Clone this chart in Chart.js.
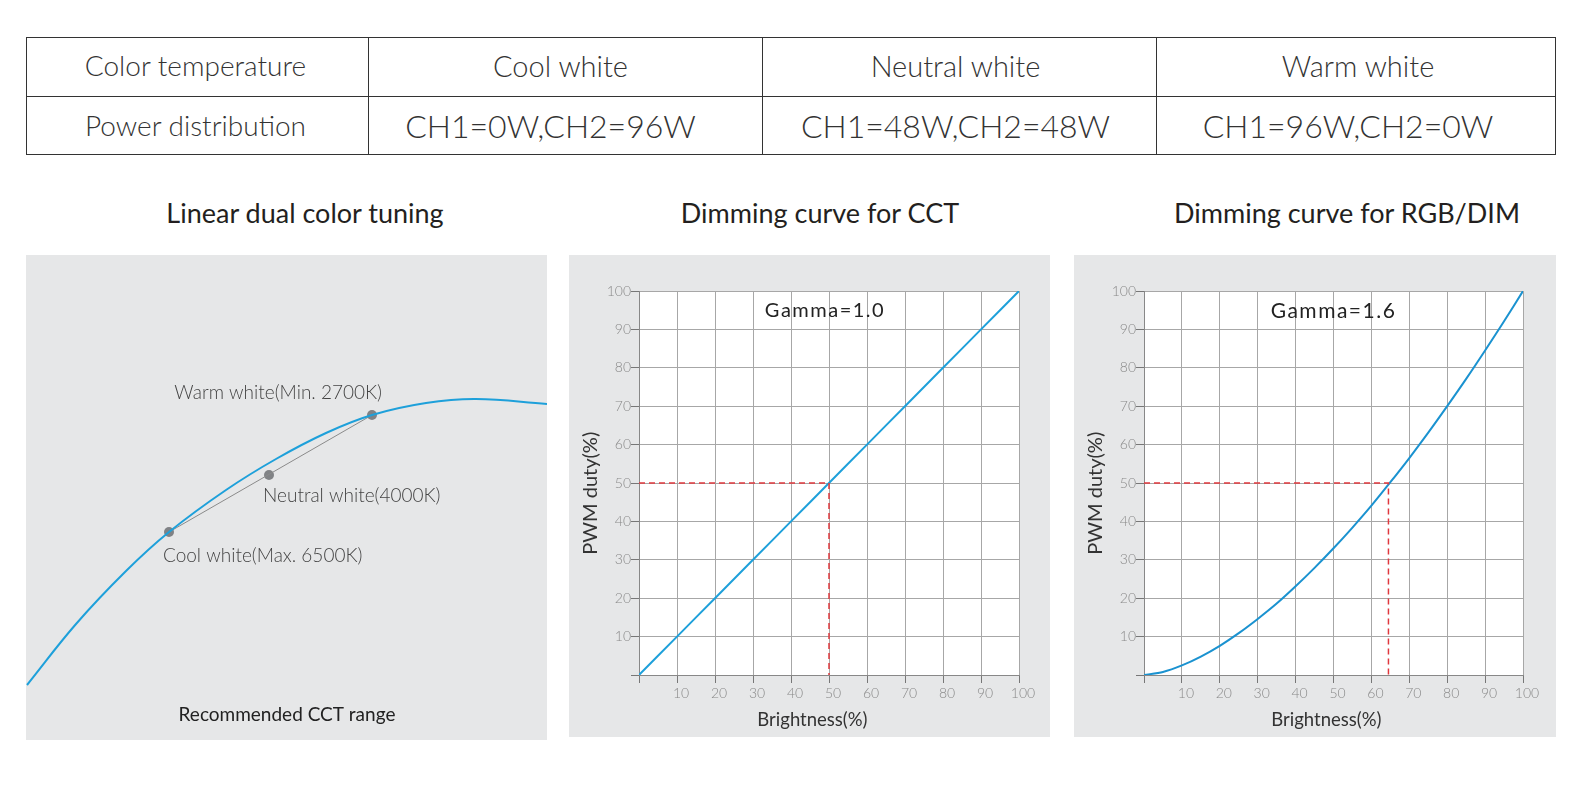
<!DOCTYPE html>
<html>
<head>
<meta charset="utf-8">
<script src="https://cdn.jsdelivr.net/npm/chart.js@4.4.0/dist/chart.umd.min.js"></script>
<style>
  body { margin: 0; background: #fff; width: 1572px; height: 796px; position: relative; overflow: hidden;
         font-family: Lato, "Open Sans", sans-serif; color: #333; }
  table { position: absolute; left: 26px; top: 37px; border-collapse: collapse; }
  td { border: 1px solid #333; text-align: center; font-weight: 300; font-size: 29px; height: 58.5px; padding: 0; color: #333; box-sizing: border-box; }
  tr.r1 td { padding-bottom: 3px; }
  td.first { font-size: 28px; }
  td.ch { font-size: 32px; }
  .ttl { position: absolute; width: 420px; text-align: center; font-size: 27px; color: #231f20; }
  .panel { position: absolute; background: #e6e7e8; }
</style>
</head>
<body>
<table>
  <tr class="r1">
    <td class="first" style="width:342px;padding-right:4px">Color temperature</td>
    <td style="width:394px;padding-right:10px">Cool white</td>
    <td style="width:394px;padding-right:8px">Neutral white</td>
    <td style="width:399px;padding-left:4px">Warm white</td>
  </tr>
  <tr>
    <td class="first" style="padding-right:4px">Power distribution</td>
    <td class="ch" style="padding-right:30px">CH1=0W,CH2=96W</td>
    <td class="ch" style="padding-right:8px">CH1=48W,CH2=48W</td>
    <td class="ch" style="padding-right:16px">CH1=96W,CH2=0W</td>
  </tr>
</table>

<div class="ttl" style="left:95px;top:196px">Linear dual color tuning</div>
<div class="ttl" style="left:610px;top:196px">Dimming curve for CCT</div>
<div class="ttl" style="left:1137px;top:196px">Dimming curve for RGB/DIM</div>

<div class="panel" style="left:26px;top:255px;width:521px;height:485px"><canvas id="cct" width="521" height="485"></canvas></div>
<div class="panel" style="left:569px;top:255px;width:481px;height:482px"><canvas id="lin" width="481" height="482"></canvas></div>
<div class="panel" style="left:1074px;top:255px;width:482px;height:482px"><canvas id="gam" width="482" height="482"></canvas></div>

<script>
// locus curve in the first panel (arbitrary units, no axes shown)
const locusX = [1, 50, 100, 143, 200, 250, 300, 346, 400, 450, 521];
const locusY = [55, 116, 169, 208, 250, 281, 307, 325, 337, 341, 336];
const pointNames = ["Cool white(Max. 6500K)", "Neutral white(4000K)", "Warm white(Min. 2700K)"];
const pointX = [143, 243, 346];
const pointY = [208, 265, 325];

// dimming curves
const brightness = [0, 10, 20, 30, 40, 50, 60, 70, 80, 90, 100];
const dutyLinear = [0, 10, 20, 30, 40, 50, 60, 70, 80, 90, 100];
const gammaX = [0, 5, 10, 15, 20, 25, 30, 35, 40, 45, 50, 55, 60, 65, 70, 75, 80, 85, 90, 95, 100];
const gammaY = [0, 0.8, 2.5, 4.8, 7.6, 10.9, 14.6, 18.6, 23.1, 27.9, 33, 38.4, 44.1, 50.2, 56.5, 63.1, 70, 77.1, 84.5, 92.1, 100];
const refLinX = [0, 50, 50];
const refLinY = [50, 50, 0];
const refGamX = [0, 64.5, 64.5];
const refGamY = [50, 50, 0];

const pts = (xs, ys) => xs.map((x, i) => ({ x: x, y: ys[i] }));
const FONT = "Lato, 'Open Sans', sans-serif";

// ---- panel 1 ----
const labelOffsets = [[-6, 24, "left"], [-6, 21, "left"], [10, -22, "right"]];
const pointLabels = {
  id: "pointLabels",
  afterDraw(chart) {
    const ctx = chart.ctx;
    const meta = chart.getDatasetMeta(2);
    ctx.save();
    ctx.font = "300 19px " + FONT;
    ctx.fillStyle = "#444";
    ctx.textBaseline = "middle";
    meta.data.forEach((p, i) => {
      ctx.textAlign = labelOffsets[i][2];
      ctx.fillText(pointNames[i], p.x + labelOffsets[i][0], p.y + labelOffsets[i][1]);
    });
    ctx.font = "19px " + FONT;
    ctx.fillStyle = "#222";
    ctx.textAlign = "center";
    ctx.fillText("Recommended CCT range", 261, 460);
    ctx.restore();
  },
};

new Chart(document.getElementById("cct"), {
  type: "scatter",
  data: {
    datasets: [
      {
        data: pts(locusX, locusY),
        showLine: true,
        borderColor: "#1ea0da",
        borderWidth: 2,
        pointRadius: 0,
        tension: 0.4,
      },
      {
        data: pts([pointX[0], pointX[2]], [pointY[0], pointY[2]]),
        showLine: true,
        borderColor: "#8a8a8a",
        borderWidth: 1,
        pointRadius: 0,
      },
      {
        data: pts(pointX, pointY),
        pointRadius: 5,
        pointBackgroundColor: "#808285",
        pointBorderWidth: 0,
      },
    ],
  },
  options: {
    responsive: false,
    animation: false,
    layout: { padding: 0, autoPadding: false },
    plugins: { legend: { display: false }, tooltip: { enabled: false } },
    scales: {
      x: { type: "linear", min: 0, max: 521, display: false },
      y: { type: "linear", min: 0, max: 485, display: false },
    },
  },
  plugins: [pointLabels],
});

// ---- panels 2 and 3 ----
const whiteArea = {
  id: "whiteArea",
  beforeDraw(chart) {
    const a = chart.chartArea;
    chart.ctx.save();
    chart.ctx.fillStyle = "#fff";
    chart.ctx.fillRect(a.left, a.top, a.right - a.left, a.bottom - a.top);
    chart.ctx.restore();
  },
};

function gammaLabel(text, size, dx) {
  return {
    id: "gammaLabel",
    afterDatasetsDraw(chart) {
      const ctx = chart.ctx;
      const a = chart.chartArea;
      ctx.save();
      ctx.font = size + "px " + FONT;
      ctx.letterSpacing = "1.5px";
      ctx.fillStyle = "#222";
      ctx.textAlign = "center";
      ctx.textBaseline = "middle";
      ctx.fillText(text, (a.left + a.right) / 2 + dx, a.top + 20);
      ctx.restore();
    },
  };
}

// cfg: left/right padding of plot, label sizes, title shifts (spaces)
function dimChart(id, curve, refLine, cfg) {
  new Chart(document.getElementById(id), {
    type: "scatter",
    data: {
      datasets: [
        {
          data: refLine,
          showLine: true,
          borderColor: "#e0383e",
          borderWidth: 1.5,
          borderDash: [6, 4],
          pointRadius: 0,
        },
        {
          data: curve,
          showLine: true,
          borderColor: cfg.blue,
          borderWidth: 2,
          pointRadius: 0,
          tension: 0.3,
        },
      ],
    },
    options: {
      responsive: false,
      animation: false,
      layout: { padding: { top: 36, right: cfg.right, left: 0, bottom: 0 }, autoPadding: false },
      plugins: { legend: { display: false }, tooltip: { enabled: false } },
      scales: {
        x: {
          type: "linear",
          min: 0,
          max: 100,
          afterFit: (s) => { s.height = 62; },
          ticks: {
            stepSize: 10,
            color: "#8a8a8a",
            font: { size: 14, family: FONT, weight: 300 },
            padding: 2,
            labelOffset: 4,
            maxRotation: 0,
            callback: (v) => (v === 0 ? "" : v),
          },
          grid: { color: "#a7a7a7", tickLength: 8, tickColor: "#777" },
          border: { color: "#888" },
          title: {
            display: true,
            text: "Brightness(%)" + " ".repeat(cfg.xShift),
            color: "#333",
            font: { size: 18.5, family: FONT },
            padding: { top: 0, bottom: 6 },
          },
        },
        y: {
          type: "linear",
          min: 0,
          max: 100,
          afterFit: (s) => { s.width = cfg.left; },
          ticks: {
            stepSize: 10,
            color: "#8a8a8a",
            font: { size: 14, family: FONT, weight: 300 },
            padding: 0,
            callback: (v) => (v === 0 ? "" : v),
          },
          grid: { color: "#a7a7a7", tickLength: 8, tickColor: "#777" },
          border: { color: "#888" },
          title: {
            display: true,
            text: "PWM duty(%)" + " ".repeat(4),
            color: "#333",
            font: { size: 20, family: FONT },
            padding: { top: 10, bottom: 0 },
          },
        },
      },
    },
    plugins: [whiteArea, gammaLabel(cfg.label, cfg.size, cfg.dx)],
  });
}

dimChart("lin", pts(brightness, dutyLinear), pts(refLinX, refLinY),
  { label: "Gamma=1.0", size: 20, dx: -4, left: 70, right: 31, xShift: 7, blue: "#1ea0da" });
dimChart("gam", pts(gammaX, gammaY), pts(refGamX, refGamY),
  { label: "Gamma=1.6", size: 21, dx: 0, left: 70, right: 33, xShift: 3, blue: "#1a92d0" });
</script>
</body>
</html>
